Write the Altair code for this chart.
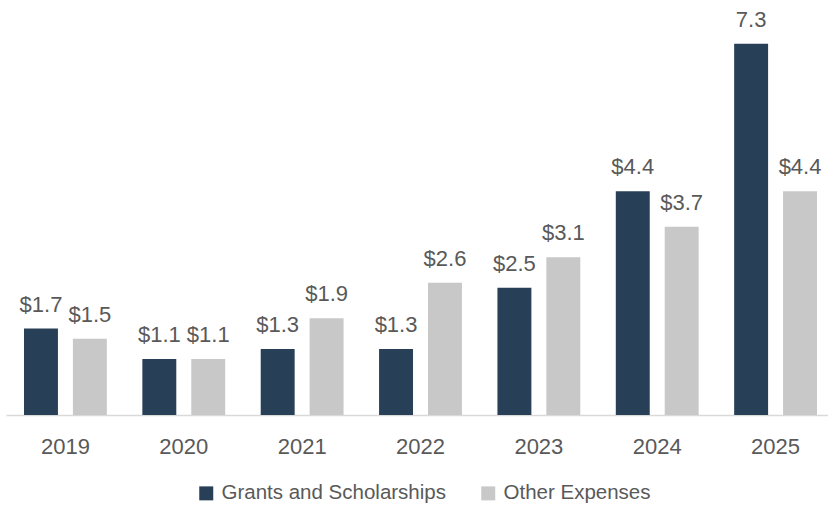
import altair as alt
import pandas as pd

years = ["2019", "2020", "2021", "2022", "2023", "2024", "2025"]
series_names = ["Grants and Scholarships", "Other Expenses"]
grants = [1.7, 1.1, 1.3, 1.3, 2.5, 4.4, 7.3]
other = [1.5, 1.1, 1.9, 2.6, 3.1, 3.7, 4.4]
grant_labels = ["$1.7", "$1.1", "$1.3", "$1.3", "$2.5", "$4.4", "7.3"]
other_labels = ["$1.5", "$1.1", "$1.9", "$2.6", "$3.1", "$3.7", "$4.4"]
colors = ["#283F58", "#C9C8C9"]

rows = []
for i, yr in enumerate(years):
    rows.append({"year": yr, "series": series_names[0], "value": grants[i], "label": grant_labels[i]})
    rows.append({"year": yr, "series": series_names[1], "value": other[i], "label": other_labels[i]})
df = pd.DataFrame(rows)

FONT = "Liberation Sans"
TXT = "#595959"

x_enc = alt.X(
    "year:N",
    sort=years,
    title=None,
    scale=alt.Scale(range=[0, 829], paddingInner=0.3, paddingOuter=0.152),
    axis=alt.Axis(
        labelAngle=0, ticks=False, labelPadding=21, labelFontSize=22,
        labelColor=TXT, labelFont=FONT, domainColor="#D9D9D9", domainWidth=1.5,
        grid=False,
    ),
)
xo_enc = alt.XOffset("series:N", sort=series_names,
                     scale=alt.Scale(paddingInner=0.306, paddingOuter=0))
y_scale = alt.Scale(domain=[0, 8.16], nice=False, zero=True)

base = alt.Chart(df)

bars = base.mark_bar().encode(
    x=x_enc,
    xOffset=xo_enc,
    y=alt.Y("value:Q", scale=y_scale, axis=None),
    color=alt.Color(
        "series:N",
        sort=series_names,
        scale=alt.Scale(domain=series_names, range=colors),
        legend=alt.Legend(
            title=None, orient="none", legendX=190, legendY=483,
            direction="horizontal", symbolType="square", symbolSize=196,
            symbolStrokeWidth=0, labelFontSize=20.5, labelFont=FONT, labelColor=TXT,
            labelOffset=5, columnPadding=32, padding=0, labelLimit=0,
        ),
    ),
)

labels = base.mark_text(
    baseline="alphabetic", dy=-17, fontSize=22, font=FONT, color=TXT
).encode(
    x=alt.X("year:N", sort=years),
    xOffset=alt.XOffset("series:N", sort=series_names),
    y=alt.Y("value:Q", scale=y_scale),
    text="label:N",
)

chart = (
    alt.layer(bars, labels)
    .properties(
        width=822, height=415,
        autosize=alt.AutoSizeParams(type="none"),
        padding={"left": 6, "top": 0, "right": 0, "bottom": 91},
    )
    .configure_view(stroke=None)
)

chart.save("out.html", embed_options={"renderer": "svg", "actions": False})
